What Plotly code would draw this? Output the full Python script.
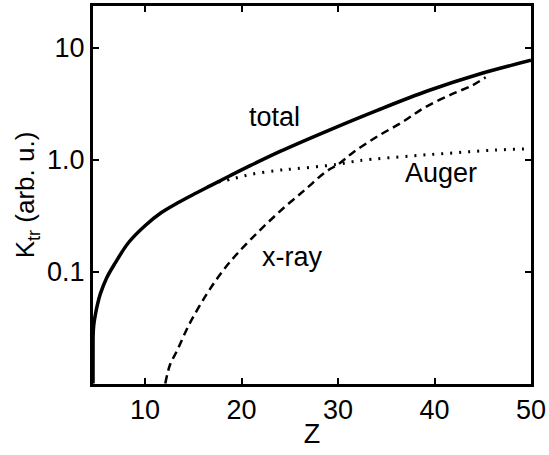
import plotly.graph_objects as go

# Total transition rate K_tr versus atomic number Z
z_total = [4.61, 4.615, 4.63, 4.7, 4.85, 5.05, 5.36, 6.0, 6.9, 8.3, 10.0, 11.7,
           13.4, 15.15, 16.9, 18.8, 21.0, 24.0, 29.1, 34.2, 39.4, 44.5, 50.0]
k_total = [0.0100, 0.020, 0.028, 0.034, 0.041, 0.050, 0.063, 0.087, 0.119, 0.182,
           0.257, 0.337, 0.412, 0.496, 0.592, 0.718, 0.893, 1.186, 1.84, 2.79,
           4.15, 5.77, 7.73]

# Auger contribution
z_auger = [17.6, 19.1, 21.0, 23.6, 25.6, 29.8, 32.2, 37.6, 42.0, 46.3, 50.0]
k_auger = [0.63, 0.675, 0.74, 0.80, 0.83, 0.905, 0.98, 1.08, 1.15, 1.22, 1.25]

# X-ray (radiative) contribution
z_xray = [12.1, 12.6, 13.3, 14.6, 16.4, 18.0, 19.6, 21.9, 24.3, 26.7, 28.7,
          30.1, 31.5, 33.9, 36.6, 39.0, 41.8, 43.9, 45.3]
k_xray = [0.0100, 0.0148, 0.0195, 0.034, 0.063, 0.100, 0.146, 0.234, 0.366, 0.55,
          0.775, 0.92, 1.15, 1.58, 2.15, 2.93, 3.85, 4.6, 5.45]

y_ticks = [0.1, 1, 10]
y_tick_text = ["0.1", "1.0", "10"]
x_ticks = [10, 20, 30, 40, 50]

# curve labels: (text, Z, log10 K)
labels = [("total", 23.4, 0.378), ("Auger", 40.7, -0.115), ("x-ray", 25.2, -0.865)]

FONT = "Liberation Sans, Arial, sans-serif"
SIZE = 27

fig = go.Figure()
fig.add_trace(go.Scatter(x=z_auger, y=k_auger, mode="lines",
                         line=dict(color="black", width=3, dash="2px,7px"),
                         line_shape="spline"))
fig.add_trace(go.Scatter(x=z_xray, y=k_xray, mode="lines",
                         line=dict(color="black", width=2.5, dash="8px,5px"),
                         line_shape="spline"))
fig.add_trace(go.Scatter(x=z_total, y=k_total, mode="lines",
                         line=dict(color="black", width=3.5),
                         line_shape="spline"))

for text, zx, ly in labels:
    fig.add_annotation(x=zx, y=ly, text=text, showarrow=False,
                       font=dict(family=FONT, size=SIZE, color="black"))

fig.update_layout(
    width=549, height=455,
    margin=dict(l=93, r=18, t=3, b=71),
    paper_bgcolor="white", plot_bgcolor="white",
    showlegend=False,
    font=dict(family=FONT, size=SIZE, color="black"),
)
fig.update_xaxes(
    range=[4.61, 50.0], tickvals=x_ticks,
    ticks="inside", ticklen=6, tickwidth=2, tickcolor="black",
    showline=True, linewidth=3, linecolor="black", mirror="ticks",
    showgrid=False, zeroline=False,
    title=dict(text="Z", standoff=0, font=dict(size=SIZE)),
    tickfont=dict(size=SIZE),
)
fig.update_yaxes(
    type="log", range=[-2.004, 1.373],
    tickvals=y_ticks, ticktext=y_tick_text,
    ticks="inside", ticklen=6, tickwidth=2, tickcolor="black",
    showline=True, linewidth=3, linecolor="black", mirror="ticks",
    showgrid=False, zeroline=False,
    title=dict(text="K<sub>tr</sub> (arb. u.)", standoff=5, font=dict(size=26)),
    tickfont=dict(size=SIZE),
)

fig.write_html("out.html")
